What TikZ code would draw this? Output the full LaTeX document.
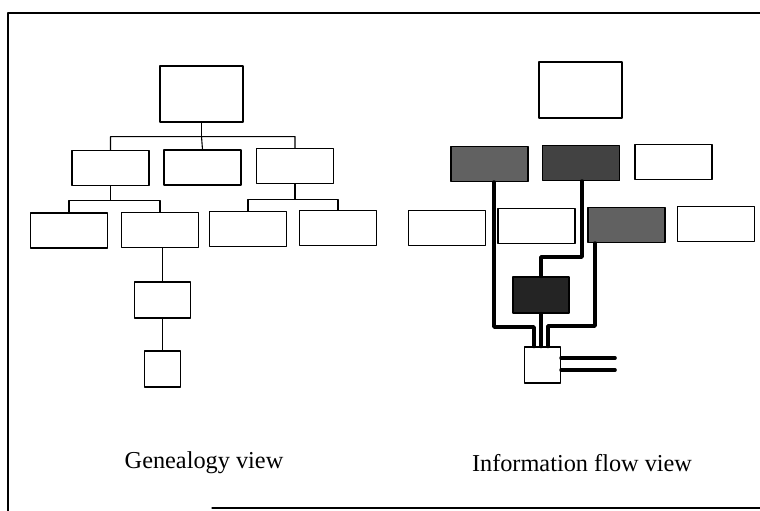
\documentclass[tikz,border=0pt]{standalone}
\usepackage{fontspec}
\setmainfont{Liberation Serif}
\usepackage{xcolor}
\usepackage{tikz}
\usetikzlibrary{calc,positioning}
\tikzset{
  gbox/.style={rectangle, draw, line width=1.1pt, minimum width=77pt, minimum height=35pt, inner sep=0pt},
  bigbox/.style={gbox, minimum width=83pt, minimum height=56pt},
  midbox/.style={gbox, minimum width=56pt, minimum height=36pt},
  smallbox/.style={gbox, minimum width=36pt, minimum height=36pt},
  tie/.style={line width=1.1pt},
  flow/.style={line width=3.6pt},
  caption/.style={font=\fontsize{24.3}{29}\selectfont},
  every picture/.style={line cap=round, line join=round}
}

\begin{document}
\begin{tikzpicture}[x=1pt, y=-1pt]
    \useasboundingbox (0,0) rectangle (760,511);
    % frame
    \draw[line width=1.2pt] (760,13) -- (8,13) -- (8,511);
    \draw[line width=1.2pt] (212,508) -- (760,508);

    % genealogy view
    \node[bigbox] (g0) at (201.5,94) {};
    \node[gbox] (gA) at (110.5,168) {};
    \node[gbox] (gB) at (202.5,167.5) {};
    \node[gbox] (gC) at (295,166) {};
    \node[gbox] (gD) at (69,230.5) {};
    \node[gbox] (gE) at (160,230) {};
    \node[gbox] (gF) at (248,229) {};
    \node[gbox] (gG) at (338,228) {};
    \node[midbox] (gH) at (162.5,300) {};
    \node[smallbox] (gI) at (162.5,369) {};

    \draw[tie] (g0.south) -- ++(0,14) coordinate (j0);
    \draw[tie] (j0) -| (gA.north) (j0) -| (gC.north) (j0) -- (gB.north);
    \draw[tie] (gA.south) -- ++(0,14) coordinate (j1);
    \draw[tie] (j1) -| (gD.north) (j1) -| (gE.north);
    \draw[tie] (gC.south) -- ++(0,15) coordinate (j2);
    \draw[tie] (j2) -| (gF.north) (j2) -| (gG.north);
    \draw[tie] (gH.north |- gE.south) -- (gH.north);
    \draw[tie] (gH.south) -- (gI.north);

    \node[caption] (gcap) at (204,463) {Genealogy view};

    % information flow view
    \node[bigbox] (fR) at (580.5,90) {};
    \node[gbox, fill=black!62] (fP) at (489.5,164) {};
    \node[gbox, fill=black!74] (fQ) at (581,163) {};
    \node[gbox] (fS) at (673.5,162) {};
    \node[gbox] (fT) at (447,228) {};
    \node[gbox] (fU) at (536.5,226) {};
    \node[gbox, fill=black!62] (fV) at (626.5,225) {};
    \node[gbox] (fW) at (716,224) {};
    \node[midbox, fill=black!86] (fX) at (541,295) {};
    \node[smallbox] (fY) at (542.5,365) {};

    \coordinate (out1) at (615,358);
    \coordinate (out2) at (615,370);

    \draw[flow] ([xshift=4.5pt]fP.south) -- ++(0,145) -| ([xshift=-8.5pt]fY.north);
    \draw[flow] ([xshift=1pt]fQ.south) -- ++(0,76) -| (fX.north);
    \draw[flow] (fX.south) -- (fX.south |- fY.north);
    \draw[flow] ([xshift=-31.5pt]fV.south) -- ++(0,83) -| ([xshift=5.5pt]fY.north);
    \draw[flow] (fY.east |- out1) -- (out1);
    \draw[flow] (fY.east |- out2) -- (out2);

    \node[caption] (fcap) at (582,463) {Information flow view};
\end{tikzpicture}
\end{document}
